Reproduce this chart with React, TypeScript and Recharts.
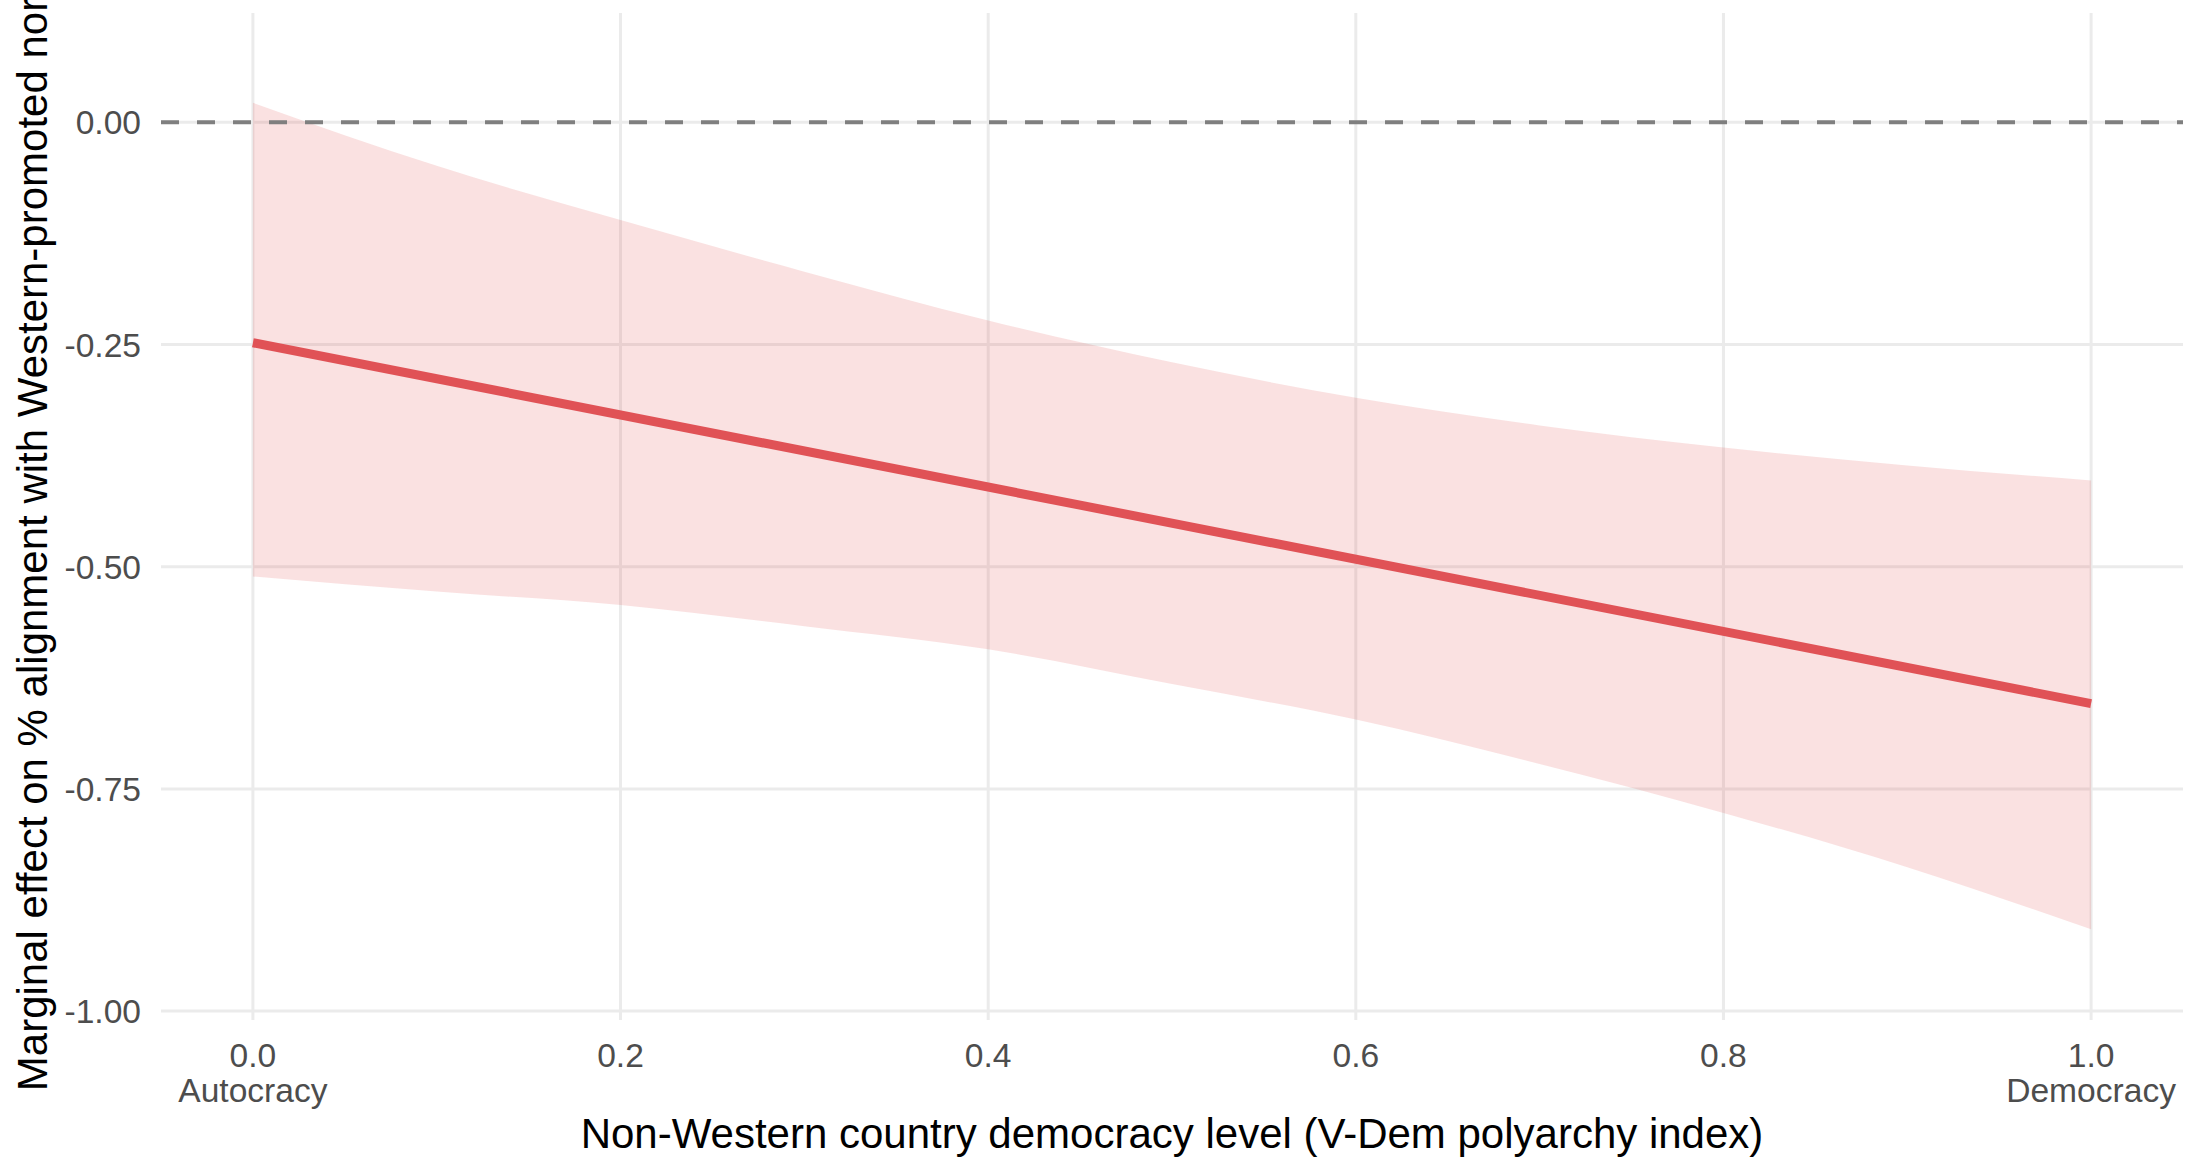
import {
  ComposedChart,
  Area,
  Line,
  XAxis,
  YAxis,
  CartesianGrid,
  ReferenceLine
} from "recharts"

// democracy level (x) and the 95% band
const democracyLevels = [0, 0.1, 0.2, 0.3, 0.4, 0.5, 0.6, 0.7, 0.8, 0.9, 1.0]
const upperBound = [0.022, -0.049, -0.110, -0.168, -0.223, -0.270, -0.310, -0.341, -0.366, -0.386, -0.403]
const lowerBound = [-0.511, -0.528, -0.543, -0.567, -0.593, -0.632, -0.672, -0.722, -0.777, -0.838, -0.908]

// fitted marginal effect (straight line, two ends)
const fitLevels = [0, 1]
const fitEffect = [-0.248, -0.654]

const xTicks = [0, 0.2, 0.4, 0.6, 0.8, 1.0]
const yTicks = [0, -0.25, -0.5, -0.75, -1]
const xTickNotes: Record<string, string> = { "0": "Autocracy", "1": "Democracy" }

const xTitle = "Non-Western country democracy level (V-Dem polyarchy index)"
const yTitle = "Marginal effect on % alignment with Western-promoted norms"

const bandData = democracyLevels.map((x, i) => ({
  x,
  band: [lowerBound[i], upperBound[i]]
}))

const fitData = fitLevels.map((x, i) => ({ x, effect: fitEffect[i] }))

const FONT = "'Liberation Sans', Arial, Helvetica, sans-serif"
const TICK_SIZE = 33.6
const TITLE_SIZE = 42

function YTick({ y, payload }: any) {
  return (
    <text
      x={141}
      y={y + 12}
      textAnchor="end"
      fill="#4D4D4D"
      fontSize={TICK_SIZE}
      fontFamily={FONT}
    >
      {Number(payload.value).toFixed(2)}
    </text>
  )
}

function XTick({ x, y, payload }: any) {
  const note = xTickNotes[String(payload.value)]
  return (
    <text
      x={x}
      y={y + 39}
      textAnchor="middle"
      fill="#4D4D4D"
      fontSize={TICK_SIZE}
      fontFamily={FONT}
    >
      <tspan x={x}>{Number(payload.value).toFixed(1)}</tspan>
      {note && (
        <tspan x={x} dy={34.5}>
          {note}
        </tspan>
      )}
    </text>
  )
}

function YTitle() {
  return (
    <text
      transform="translate(47,516.5) rotate(-90)"
      textAnchor="middle"
      fill="#000"
      fontSize={TITLE_SIZE}
      fontFamily={FONT}
    >
      {yTitle}
    </text>
  )
}

function XTitle() {
  return (
    <text
      x={1172}
      y={1148}
      textAnchor="middle"
      fill="#000"
      fontSize={TITLE_SIZE}
      fontFamily={FONT}
    >
      {xTitle}
    </text>
  )
}

export default function App() {
  return (
    <div style={{ position: "absolute", left: 0, top: 0, background: "#fff" }}>
      <ComposedChart
        width={2208}
        height={1161}
        data={bandData}
        margin={{ top: 13, right: 25, bottom: 0, left: 0 }}
      >
        <CartesianGrid
          stroke="#EBEBEB"
          strokeWidth={3}
          horizontalValues={yTicks}
          verticalValues={xTicks}
        />

        <XAxis
          type="number"
          dataKey="x"
          domain={[-0.05, 1.05]}
          ticks={xTicks}
          allowDataOverflow
          axisLine={false}
          tickLine={false}
          height={141}
          tick={<XTick />}
          label={{ content: () => <XTitle /> }}
        />

        <YAxis
          type="number"
          domain={[-1.01, 0.123]}
          ticks={yTicks}
          allowDataOverflow
          axisLine={false}
          tickLine={false}
          width={161}
          tick={<YTick />}
          label={{ content: () => <YTitle /> }}
        />

        <Area
          dataKey="band"
          type="monotone"
          stroke="none"
          fill="#E15759"
          fillOpacity={0.18}
          isAnimationActive={false}
          activeDot={false}
        />

        <Line
          data={fitData}
          dataKey="effect"
          type="linear"
          stroke="#E05256"
          strokeWidth={9}
          dot={false}
          activeDot={false}
          isAnimationActive={false}
        />

        <ReferenceLine
          y={0}
          stroke="#7F7F7F"
          strokeWidth={4}
          strokeDasharray="18 18"
        />
      </ComposedChart>
    </div>
  )
}
